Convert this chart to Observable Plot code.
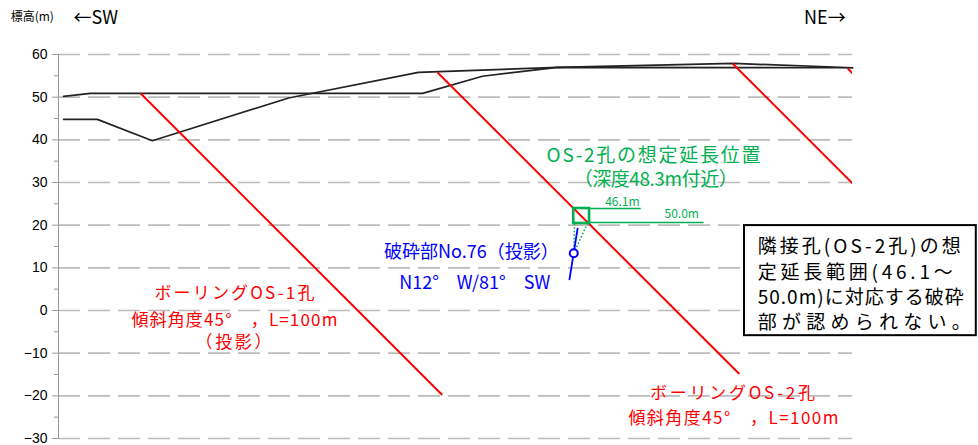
<!DOCTYPE html>
<html>
<head>
<meta charset="utf-8">
<script src="https://cdn.jsdelivr.net/npm/d3@7"></script>
<script src="https://cdn.jsdelivr.net/npm/@observablehq/plot@0.6"></script>
<style>
  html, body { margin: 0; padding: 0; background: #fff; }
  svg { display: block; }
</style>
</head>
<body>
<div id="chart"></div>
<script>
// ---- axis ticks (elevation, m) ----
const yTicks = [-30, -20, -10, 0, 10, 20, 30, 40, 50, 60];
const yMinor = [-25, -15, -5, 5, 15, 25, 35, 45, 55];

// ---- ground surface profiles (horizontal distance m, elevation m) ----
const terrainAX = [1.2, 7.5, 85.3, 99.3, 116.9, 186.0];
const terrainAY = [50.2, 50.9, 50.9, 54.9, 57.0, 56.9];
const terrainBX = [1.2, 9.1, 22.0, 53.9, 84.3, 116.9, 158.2, 186.0];
const terrainBY = [44.8, 44.8, 39.8, 49.8, 55.8, 57.0, 57.9, 56.9];

// ---- boreholes (inclined 45°, L=100m) ----
const holeNames = ["OS-1", "OS-2", "OS-3", "OS-4"];
const holeX0 = [19.2, 88.8, 157.9, 184.9];
const holeY0 = [50.9, 55.8, 57.9, 56.7];
const holeX1 = [89.9, 159.5, 228.6, 255.6];
const holeY1 = [-19.8, -14.9, -12.8, -14.0];

// ---- assumed extension of OS-2 (depth 46.1–50.0 m) ----
const extSquareX = [120.7, 124.4];
const extSquareY = [20.4, 23.9];
const extDepthLabels = ["46.1m", "50.0m"];
const extLineX1 = [124.4, 124.4];
const extLineX2 = [136.4, 151.1];
const extLineY = [23.9, 20.6];
const extLabelX = [132.1, 146.0];
const extLabelY = [25.5, 22.6];

// ---- fracture zone No.76 (projected) ----
const faultX = [119.7, 121.6];
const faultY = [7.3, 19.2];
const faultPointX = [120.7];
const faultPointY = [13.4];
const dotTargetX = [120.9, 123.9];
const dotTargetY = [20.4, 20.4];

// ---- annotation texts ----
const greenTexts = ["OS-2孔の想定延長位置", "（深度48.3m付近）"];
const greenX = [139.4, 139.9];
const greenY = [36.3, 30.5];
const blueTexts = ["破砕部No.76（投影）", "N12°　W/81°　SW"];
const blueX = [96.7, 97.5];
const blueY = [13.6, 6.3];
const red1Texts = ["ボーリングOS-1孔", "傾斜角度45°　，L=100m", "（投影）"];
const red1X = [41.2, 41.2, 41.0];
const red1Y = [4.0, -2.3, -7.6];
const red2Texts = ["ボーリングOS-2孔", "傾斜角度45°　，L=100m"];
const red2X = [157.9, 158.1];
const red2Y = [-19.5, -25.3];
const boxTexts = ["隣接孔(OS-2孔)の想", "定延長範囲(46.1～", "50.0m)に対応する破砕", "部が認められない。"];
const boxTextX = [163.8, 163.8, 163.8, 163.8];
const boxTextY = [14.8, 8.9, 3.0, -2.8];
const boxX = [160.7, 215.0];
const boxY = [-5.9, 19.9];

// ---- header labels ----
const headTexts = ["標高(m)", "←SW", "NE→"];
const headX = [-11.2, 3.5, 184.4];
const headY = [68.7, 68.4, 68.4];

const JP = "'Noto Sans CJK JP', 'Noto Sans', sans-serif";
const GREEN = "#00b050", RED = "#ff0000", BLUE = "#0000ff";

const idx = a => a.map((_, i) => i);

const chart = Plot.plot({
  width: 978,
  height: 445,
  marginLeft: 58,
  marginRight: 126,
  marginTop: 54,
  marginBottom: 7,
  style: { background: "#fff", fontFamily: "'Liberation Sans', Arial, sans-serif" },
  x: { domain: [0, 186], axis: null },
  y: { domain: [-30, 60], axis: null },
  marks: [
    // dashed gridlines
    Plot.ruleY(yTicks, { stroke: "#bbb", strokeWidth: 1.6, strokeDasharray: "22,8" }),
    // axis line
    Plot.ruleX([0], { y1: -30, y2: 60, stroke: "#999", strokeWidth: 1 }),
    Plot.axisY({ ticks: yTicks, tickSize: 6, tickPadding: 5, fontSize: 14, stroke: "#999", color: "#000", label: null, tickFormat: d => d < 0 ? "\u2212" + (-d) : String(d) }),
    Plot.axisY({ ticks: yMinor, tickSize: 4, tickFormat: () => "", stroke: "#999", label: null }),

    // ground surface
    Plot.line(terrainAX, { x: terrainAX, y: terrainAY, stroke: "#222", strokeWidth: 1.7 }),
    Plot.line(terrainBX, { x: terrainBX, y: terrainBY, stroke: "#222", strokeWidth: 1.7 }),

    // boreholes
    Plot.link(holeNames, { x1: holeX0, y1: holeY0, x2: holeX1, y2: holeY1, stroke: RED, strokeWidth: 2, clip: true }),

    // text box (covers grid)
    Plot.rect([0], { x1: boxX[0], x2: boxX[1], y1: boxY[0], y2: boxY[1], fill: "#fff", stroke: "#000", strokeWidth: 2 }),
    Plot.text(boxTexts, { x: boxTextX, y: boxTextY, text: boxTexts, textAnchor: "start", fontSize: 19, fill: "#000", fontFamily: JP, className: "boxtext" }),

    // green assumed-extension annotations
    Plot.link(extDepthLabels, { x1: extLineX1, x2: extLineX2, y1: extLineY, y2: extLineY, stroke: GREEN, strokeWidth: 1.5 }),
    Plot.text(extDepthLabels, { x: extLabelX, y: extLabelY, text: extDepthLabels, fontSize: 12, fill: GREEN, fontFamily: JP }),
    Plot.link(idx(dotTargetX), { x1: faultPointX[0], y1: faultPointY[0], x2: dotTargetX, y2: dotTargetY, stroke: GREEN, strokeWidth: 1.5, strokeDasharray: "1.5,2" }),
    Plot.rect([0], { x1: extSquareX[0], x2: extSquareX[1], y1: extSquareY[0], y2: extSquareY[1], fill: "none", stroke: GREEN, strokeWidth: 2.6 }),
    Plot.text(greenTexts, { x: greenX, y: greenY, text: greenTexts, fontSize: 19, fill: GREEN, fontFamily: JP, className: "greentext" }),

    // fracture zone
    Plot.line(faultX, { x: faultX, y: faultY, stroke: BLUE, strokeWidth: 1.8 }),
    Plot.dot(faultPointX, { x: faultPointX, y: faultPointY, r: 4, stroke: BLUE, strokeWidth: 2, fill: "#fff" }),
    Plot.text(blueTexts, { x: blueX, y: blueY, text: blueTexts, fontSize: 18, fill: BLUE, fontFamily: JP }),

    // borehole labels
    Plot.text(red1Texts, { x: red1X, y: red1Y, text: red1Texts, fontSize: 17, fill: RED, fontFamily: JP, className: "red1" }),
    Plot.text(red2Texts, { x: red2X, y: red2Y, text: red2Texts, fontSize: 17, fill: RED, fontFamily: JP, className: "red2" }),

    // header
    Plot.text(headTexts.slice(0, 1), { x: headX.slice(0, 1), y: headY.slice(0, 1), text: headTexts.slice(0, 1), textAnchor: "start", fontSize: 12, fill: "#000", fontFamily: JP }),
    Plot.text(headTexts.slice(1, 2), { x: headX.slice(1, 2), y: headY.slice(1, 2), text: headTexts.slice(1, 2), textAnchor: "start", fontSize: 18, fill: "#000", fontFamily: JP }),
    Plot.text(headTexts.slice(2, 3), { x: headX.slice(2, 3), y: headY.slice(2, 3), text: headTexts.slice(2, 3), textAnchor: "end", fontSize: 18, fill: "#000", fontFamily: JP })
  ]
});
// stretch lines to the widths of the reference's wider font
function stretch(cls, widths) {
  d3.select(chart).selectAll("." + cls + " text")
    .attr("textLength", (d, i) => widths[i])
    .attr("lengthAdjust", "spacing");
}
stretch("boxtext", [203, 195, 206, 213]);
stretch("greentext", [214, 164]);
stretch("red1", [160, 206, 76]);
stretch("red2", [165, 210]);
document.getElementById("chart").appendChild(chart);
</script>
</body>
</html>
